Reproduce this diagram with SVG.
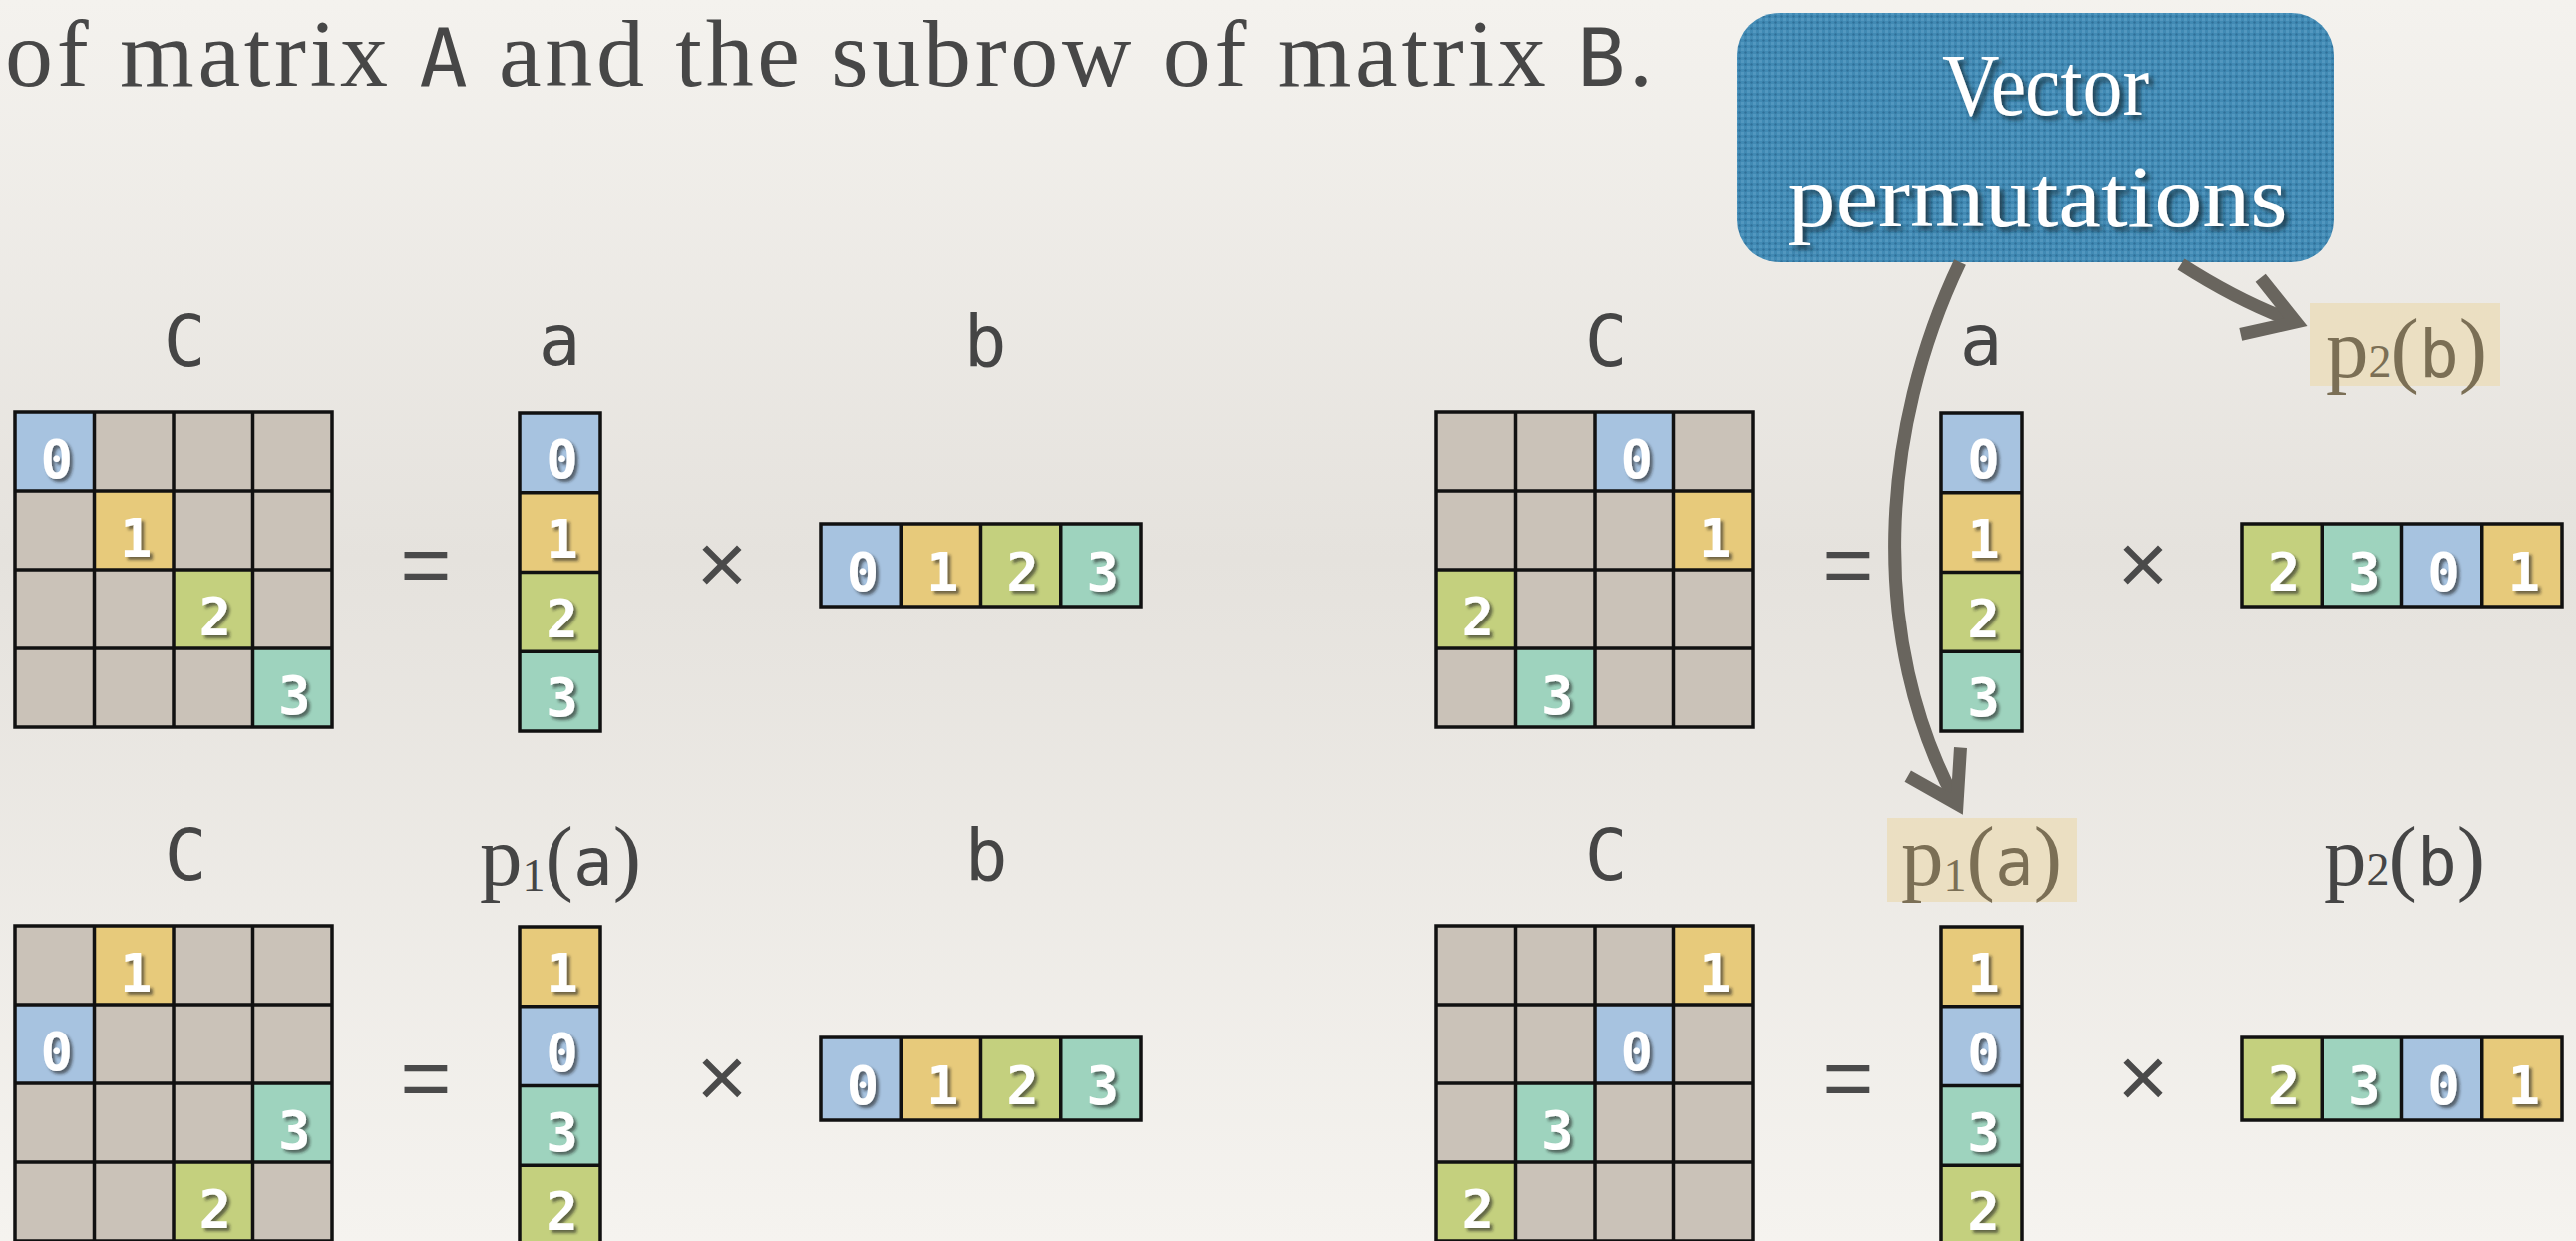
<svg xmlns="http://www.w3.org/2000/svg" xmlns:xlink="http://www.w3.org/1999/xlink" width="2583" height="1244" viewBox="0 0 2583 1244">
<defs>
  <linearGradient id="bg" x1="0" y1="0" x2="0" y2="1">
    <stop offset="0" stop-color="#f4f2ee"/>
    <stop offset="0.45" stop-color="#e5e2dd"/>
    <stop offset="1" stop-color="#f5f3ef"/>
  </linearGradient>
  <pattern id="weave" width="6" height="6" patternUnits="userSpaceOnUse">
    <rect width="6" height="6" fill="#418ab4"/>
    <rect x="0" y="0" width="3" height="3" fill="#5297bf"/>
    <circle cx="4.5" cy="4.5" r="1.2" fill="#2f7099"/>
  </pattern>
  <filter id="dsh" x="-30%" y="-30%" width="160%" height="160%">
    <feDropShadow dx="3" dy="3" stdDeviation="1.5" flood-color="#1e1e1e" flood-opacity="0.6"/>
  </filter>
  <filter id="tsh" x="-10%" y="-30%" width="120%" height="160%">
    <feDropShadow dx="4" dy="4" stdDeviation="2.5" flood-color="#14303f" flood-opacity="0.85"/>
  </filter>
  <g id="grid">
    <rect x="0" y="0" width="318" height="316" fill="none"/>
    <path d="M79.5,0V316M159,0V316M238.5,0V316M0,79H318M0,158H318M0,237H318" fill="none"/>
  </g>
  <g id="colgrid">
    <rect x="0" y="0" width="81" height="319" fill="none"/>
    <path d="M0,79.75H81M0,159.5H81M0,239.25H81" fill="none"/>
  </g>
  <g id="rowgrid">
    <rect x="0" y="0" width="321" height="83" fill="none"/>
    <path d="M80.25,0V83M160.5,0V83M240.75,0V83" fill="none"/>
  </g>
  <marker id="chev" markerUnits="userSpaceOnUse" markerWidth="90" markerHeight="90" viewBox="-70 -45 90 90" refX="0" refY="0" orient="auto" overflow="visible">
    <path d="M-48,-30 L0,0 L-48,30" fill="none" stroke="#69655e" stroke-width="13" stroke-linejoin="miter"/>
  </marker>
</defs>
<style>
  .gray{fill:#cac2b8}
  .c0{fill:#a7c3e0}
  .c1{fill:#e7ca7b}
  .c2{fill:#c4d07e}
  .c3{fill:#9ed3be}
  .lines{stroke:#111;stroke-width:3.5}
  .dg{font-family:"DejaVu Sans Mono",monospace;font-weight:bold;font-size:54px;fill:#ffffff;text-anchor:middle;filter:url(#dsh)}
  .lbl{font-family:"DejaVu Sans Mono",monospace;font-size:71px;fill:#454545;text-anchor:middle}
  .fx{font-family:"Liberation Serif",serif;font-size:85px;fill:#454545;text-anchor:middle}
  .fx .m{font-family:"DejaVu Sans Mono",monospace;font-size:66px}
  .fx .s{font-size:46px}
  .hl .fx{fill:#7b6f55}
  .hlbox{fill:#ebdfc2}
  .op{font-family:"Liberation Sans",sans-serif;font-size:88px;fill:#4a4a4a;text-anchor:middle}
  .title{font-family:"Liberation Serif",serif;font-size:96px;fill:#474747}
  .title .m{font-family:"DejaVu Sans Mono",monospace;font-size:80px}
  .boxtext{font-family:"Liberation Serif",serif;font-size:88px;fill:#ffffff;text-anchor:middle;filter:url(#tsh)}
  .conn{fill:none;stroke:#69655e;stroke-width:13;marker-end:url(#chev)}
</style>

<rect x="0" y="0" width="2583" height="1244" fill="url(#bg)"/>

<g id="title">
  <text class="title" x="5" y="86" textLength="1652" lengthAdjust="spacing">of matrix <tspan class="m">A</tspan> and the subrow of matrix <tspan class="m">B</tspan>.</text>
</g>

<g id="box-vector-permutations">
  <rect x="1742" y="13" width="598" height="250" rx="42" fill="url(#weave)"/>
  <text class="boxtext" x="2051" y="115" textLength="208" lengthAdjust="spacingAndGlyphs">Vector</text>
  <text class="boxtext" x="2043" y="227" textLength="501" lengthAdjust="spacingAndGlyphs">permutations</text>
</g>

<!-- Top-left equation -->
<g id="label-C-tl"><text class="lbl" x="185" y="367">C</text></g>
<g id="label-a-tl"><text class="lbl" x="561" y="366">a</text></g>
<g id="label-b-tl"><text class="lbl" x="988" y="367">b</text></g>

<g id="matrix-C-tl" transform="translate(15,413)">
  <rect class="gray" width="318" height="316"/>
  <rect class="c0" x="0" y="0" width="79.5" height="79"/>
  <rect class="c1" x="79.5" y="79" width="79.5" height="79"/>
  <rect class="c2" x="159" y="158" width="79.5" height="79"/>
  <rect class="c3" x="238.5" y="237" width="79.5" height="79"/>
  <use href="#grid" class="lines"/>
  <text class="dg" x="41.75" y="66">0</text>
  <text class="dg" x="121.25" y="145">1</text>
  <text class="dg" x="200.75" y="224">2</text>
  <text class="dg" x="280.25" y="303">3</text>
</g>
<g id="op-eq-tl"><text class="op" x="427" y="596">=</text></g>
<g id="vector-a-tl" transform="translate(521,414)">
  <rect class="c0" x="0" y="0" width="81" height="79.75"/>
  <rect class="c1" x="0" y="79.75" width="81" height="79.75"/>
  <rect class="c2" x="0" y="159.5" width="81" height="79.75"/>
  <rect class="c3" x="0" y="239.25" width="81" height="79.75"/>
  <use href="#colgrid" class="lines"/>
  <text class="dg" x="42.5" y="65">0</text>
  <text class="dg" x="42.5" y="144.75">1</text>
  <text class="dg" x="42.5" y="224.5">2</text>
  <text class="dg" x="42.5" y="304.25">3</text>
</g>
<g id="op-times-tl"><text class="op" x="724" y="595">×</text></g>
<g id="vector-b-tl" transform="translate(823,525)">
  <rect class="c0" x="0" y="0" width="80.25" height="83"/>
  <rect class="c1" x="80.25" y="0" width="80.25" height="83"/>
  <rect class="c2" x="160.5" y="0" width="80.25" height="83"/>
  <rect class="c3" x="240.75" y="0" width="80.25" height="83"/>
  <use href="#rowgrid" class="lines"/>
  <text class="dg" x="42" y="67">0</text>
  <text class="dg" x="122.25" y="67">1</text>
  <text class="dg" x="202.5" y="67">2</text>
  <text class="dg" x="282.75" y="67">3</text>
</g>

<!-- Top-right equation -->
<g id="label-C-tr"><text class="lbl" x="1610" y="367">C</text></g>
<g id="label-a-tr"><text class="lbl" x="1986" y="366">a</text></g>
<g id="label-p2b-tr" class="hl">
  <rect class="hlbox" x="2316" y="304" width="191" height="83"/>
  <text class="fx" x="2413" y="378">p<tspan class="s">2</tspan>(<tspan class="m">b</tspan>)</text>
</g>

<g id="matrix-C-tr" transform="translate(1440,413)">
  <rect class="gray" width="318" height="316"/>
  <rect class="c0" x="159" y="0" width="79.5" height="79"/>
  <rect class="c1" x="238.5" y="79" width="79.5" height="79"/>
  <rect class="c2" x="0" y="158" width="79.5" height="79"/>
  <rect class="c3" x="79.5" y="237" width="79.5" height="79"/>
  <use href="#grid" class="lines"/>
  <text class="dg" x="200.75" y="66">0</text>
  <text class="dg" x="280.25" y="145">1</text>
  <text class="dg" x="41.75" y="224">2</text>
  <text class="dg" x="121.25" y="303">3</text>
</g>
<g id="op-eq-tr"><text class="op" x="1853" y="596">=</text></g>
<g id="vector-a-tr" transform="translate(1946,414)">
  <rect class="c0" x="0" y="0" width="81" height="79.75"/>
  <rect class="c1" x="0" y="79.75" width="81" height="79.75"/>
  <rect class="c2" x="0" y="159.5" width="81" height="79.75"/>
  <rect class="c3" x="0" y="239.25" width="81" height="79.75"/>
  <use href="#colgrid" class="lines"/>
  <text class="dg" x="42.5" y="65">0</text>
  <text class="dg" x="42.5" y="144.75">1</text>
  <text class="dg" x="42.5" y="224.5">2</text>
  <text class="dg" x="42.5" y="304.25">3</text>
</g>
<g id="op-times-tr"><text class="op" x="2149" y="595">×</text></g>
<g id="vector-p2b-tr" transform="translate(2248,525)">
  <rect class="c2" x="0" y="0" width="80.25" height="83"/>
  <rect class="c3" x="80.25" y="0" width="80.25" height="83"/>
  <rect class="c0" x="160.5" y="0" width="80.25" height="83"/>
  <rect class="c1" x="240.75" y="0" width="80.25" height="83"/>
  <use href="#rowgrid" class="lines"/>
  <text class="dg" x="42" y="67">2</text>
  <text class="dg" x="122.25" y="67">3</text>
  <text class="dg" x="202.5" y="67">0</text>
  <text class="dg" x="282.75" y="67">1</text>
</g>

<!-- Bottom-left equation -->
<g id="label-C-bl"><text class="lbl" x="186" y="882">C</text></g>
<g id="label-p1a-bl"><text class="fx" x="562" y="887">p<tspan class="s" dy="6">1</tspan><tspan dy="-6">(</tspan><tspan class="m">a</tspan>)</text></g>
<g id="label-b-bl"><text class="lbl" x="989" y="882">b</text></g>

<g id="matrix-C-bl" transform="translate(15,928)">
  <rect class="gray" width="318" height="316"/>
  <rect class="c1" x="79.5" y="0" width="79.5" height="79"/>
  <rect class="c0" x="0" y="79" width="79.5" height="79"/>
  <rect class="c3" x="238.5" y="158" width="79.5" height="79"/>
  <rect class="c2" x="159" y="237" width="79.5" height="79"/>
  <use href="#grid" class="lines"/>
  <text class="dg" x="121.25" y="66">1</text>
  <text class="dg" x="41.75" y="145">0</text>
  <text class="dg" x="280.25" y="224">3</text>
  <text class="dg" x="200.75" y="303">2</text>
</g>
<g id="op-eq-bl"><text class="op" x="427" y="1111">=</text></g>
<g id="vector-p1a-bl" transform="translate(521,929)">
  <rect class="c1" x="0" y="0" width="81" height="79.75"/>
  <rect class="c0" x="0" y="79.75" width="81" height="79.75"/>
  <rect class="c3" x="0" y="159.5" width="81" height="79.75"/>
  <rect class="c2" x="0" y="239.25" width="81" height="79.75"/>
  <use href="#colgrid" class="lines"/>
  <text class="dg" x="42.5" y="65">1</text>
  <text class="dg" x="42.5" y="144.75">0</text>
  <text class="dg" x="42.5" y="224.5">3</text>
  <text class="dg" x="42.5" y="304.25">2</text>
</g>
<g id="op-times-bl"><text class="op" x="724" y="1110">×</text></g>
<g id="vector-b-bl" transform="translate(823,1040)">
  <rect class="c0" x="0" y="0" width="80.25" height="83"/>
  <rect class="c1" x="80.25" y="0" width="80.25" height="83"/>
  <rect class="c2" x="160.5" y="0" width="80.25" height="83"/>
  <rect class="c3" x="240.75" y="0" width="80.25" height="83"/>
  <use href="#rowgrid" class="lines"/>
  <text class="dg" x="42" y="67">0</text>
  <text class="dg" x="122.25" y="67">1</text>
  <text class="dg" x="202.5" y="67">2</text>
  <text class="dg" x="282.75" y="67">3</text>
</g>

<!-- Bottom-right equation -->
<g id="label-C-br"><text class="lbl" x="1610" y="882">C</text></g>
<g id="label-p1a-br" class="hl">
  <rect class="hlbox" x="1892" y="820" width="191" height="84"/>
  <text class="fx" x="1987" y="887">p<tspan class="s" dy="6">1</tspan><tspan dy="-6">(</tspan><tspan class="m">a</tspan>)</text>
</g>
<g id="label-p2b-br"><text class="fx" x="2411" y="887">p<tspan class="s">2</tspan>(<tspan class="m">b</tspan>)</text></g>

<g id="matrix-C-br" transform="translate(1440,928)">
  <rect class="gray" width="318" height="316"/>
  <rect class="c1" x="238.5" y="0" width="79.5" height="79"/>
  <rect class="c0" x="159" y="79" width="79.5" height="79"/>
  <rect class="c3" x="79.5" y="158" width="79.5" height="79"/>
  <rect class="c2" x="0" y="237" width="79.5" height="79"/>
  <use href="#grid" class="lines"/>
  <text class="dg" x="280.25" y="66">1</text>
  <text class="dg" x="200.75" y="145">0</text>
  <text class="dg" x="121.25" y="224">3</text>
  <text class="dg" x="41.75" y="303">2</text>
</g>
<g id="op-eq-br"><text class="op" x="1853" y="1111">=</text></g>
<g id="vector-p1a-br" transform="translate(1946,929)">
  <rect class="c1" x="0" y="0" width="81" height="79.75"/>
  <rect class="c0" x="0" y="79.75" width="81" height="79.75"/>
  <rect class="c3" x="0" y="159.5" width="81" height="79.75"/>
  <rect class="c2" x="0" y="239.25" width="81" height="79.75"/>
  <use href="#colgrid" class="lines"/>
  <text class="dg" x="42.5" y="65">1</text>
  <text class="dg" x="42.5" y="144.75">0</text>
  <text class="dg" x="42.5" y="224.5">3</text>
  <text class="dg" x="42.5" y="304.25">2</text>
</g>
<g id="op-times-br"><text class="op" x="2149" y="1110">×</text></g>
<g id="vector-p2b-br" transform="translate(2248,1040)">
  <rect class="c2" x="0" y="0" width="80.25" height="83"/>
  <rect class="c3" x="80.25" y="0" width="80.25" height="83"/>
  <rect class="c0" x="160.5" y="0" width="80.25" height="83"/>
  <rect class="c1" x="240.75" y="0" width="80.25" height="83"/>
  <use href="#rowgrid" class="lines"/>
  <text class="dg" x="42" y="67">2</text>
  <text class="dg" x="122.25" y="67">3</text>
  <text class="dg" x="202.5" y="67">0</text>
  <text class="dg" x="282.75" y="67">1</text>
</g>

<g id="connectors">
  <path class="conn" d="M1965,263 C1885,430 1872,640 1962,806"/>
  <path class="conn" d="M2187,265 Q2248,304 2302,323"/>
</g>
</svg>
